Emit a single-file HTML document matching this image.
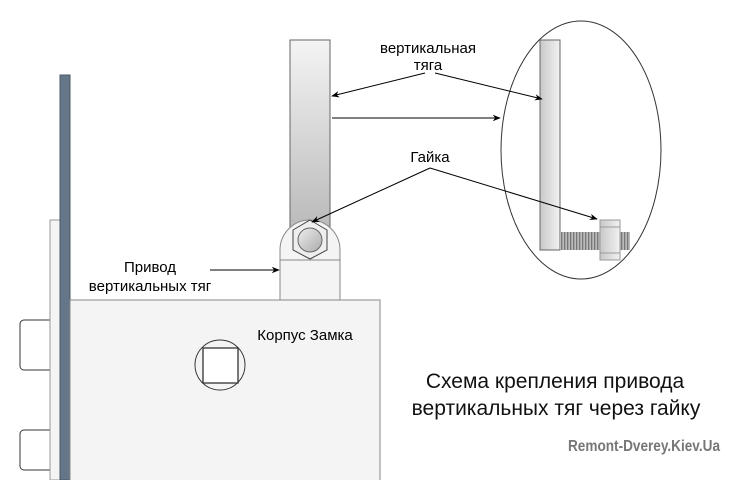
<!DOCTYPE html>
<html><head><meta charset="utf-8"><style>body{margin:0;background:#fff}svg{display:block}</style></head><body>
<svg width="731" height="480" viewBox="0 0 731 480" xmlns="http://www.w3.org/2000/svg" font-family="Liberation Sans, sans-serif">
<defs>
<linearGradient id="rg" x1="0" y1="0" x2="0" y2="1"><stop offset="0" stop-color="#f4f4f4"/><stop offset="1" stop-color="#b8b8b8"/></linearGradient>
<linearGradient id="hg" x1="0" y1="0" x2="1" y2="1"><stop offset="0" stop-color="#eee"/><stop offset="1" stop-color="#aaa"/></linearGradient>
<linearGradient id="dg" x1="0" y1="0" x2="1" y2="0"><stop offset="0" stop-color="#c8c8c8"/><stop offset="1" stop-color="#f2f2f2"/></linearGradient>
<pattern id="thr" width="3" height="18" patternUnits="userSpaceOnUse"><rect width="3" height="18" fill="#bbb"/><rect width="1.3" height="18" fill="#777"/></pattern>
<marker id="a" viewBox="0 0 10 10" refX="9" refY="5" markerWidth="8" markerHeight="8" orient="auto"><path d="M0,1 L10,5 L0,9 L3,5z" fill="#000"/></marker>
</defs>
<rect x="20" y="320" width="35" height="50" rx="4" fill="#fff" stroke="#333"/>
<rect x="20" y="430" width="35" height="40" rx="4" fill="#fff" stroke="#333"/>
<rect x="50" y="220" width="10" height="260" fill="#f4f4f4" stroke="#999"/>
<rect x="60" y="75" width="10" height="405" fill="#647687" stroke="#4a5866"/>
<rect x="70" y="300" width="310" height="182" fill="#f4f4f4" stroke="#888"/>
<rect x="290" y="40" width="40" height="195" fill="url(#rg)" stroke="#666"/>
<path d="M280,300 L280,250 A30,30 0 0 1 340,250 L340,300 Z" fill="#f4f4f4" stroke="#888"/>
<line x1="280" y1="260" x2="340" y2="260" stroke="#888"/>
<polygon points="310,220 327,230 327,250 310,259 293,250 293,230" fill="#eee" stroke="#444"/>
<circle cx="310" cy="240" r="12" fill="url(#hg)" stroke="#666"/>
<circle cx="220" cy="365" r="25" fill="#f4f4f4" stroke="#333"/>
<rect x="203" y="348" width="35" height="35" fill="#fff" stroke="#333" stroke-width="1.3"/>
<ellipse cx="581" cy="150" rx="80" ry="129" fill="#fff" stroke="#333"/>
<rect x="540" y="40" width="20" height="210" fill="url(#dg)" stroke="#666"/>
<rect x="560" y="232" width="70" height="18" fill="url(#thr)"/>
<rect x="600" y="220" width="20" height="40" fill="url(#dg)" stroke="#999"/>
<line x1="600" y1="227" x2="620" y2="227" stroke="#999"/><line x1="600" y1="253" x2="620" y2="253" stroke="#999"/>
<g stroke="#000" fill="none" marker-end="url(#a)">
<line x1="425" y1="73" x2="332" y2="96"/>
<line x1="435" y1="73" x2="542" y2="99"/>
<line x1="332" y1="118" x2="500" y2="118"/>
<line x1="430" y1="168" x2="312" y2="222"/>
<line x1="430" y1="168" x2="597" y2="219"/>
<line x1="210" y1="270" x2="279" y2="270"/>
</g>
<g font-size="15" fill="#000" text-anchor="middle">
<text x="428" y="53">вертикальная</text><text x="428" y="70">тяга</text>
<text x="430" y="162">Гайка</text>
<text x="150" y="272">Привод</text><text x="150" y="291">вертикальных тяг</text>
<text x="305" y="340">Корпус Замка</text>
</g>
<g font-size="21" fill="#111" text-anchor="middle">
<text x="555" y="388">Схема крепления привода</text>
<text x="556" y="415">вертикальных тяг через гайку</text>
</g>
<text x="644" y="451" font-size="16" font-weight="bold" fill="#777" text-anchor="middle" textLength="152" lengthAdjust="spacingAndGlyphs">Remont-Dverey.Kiev.Ua</text>
</svg>
</body></html>
